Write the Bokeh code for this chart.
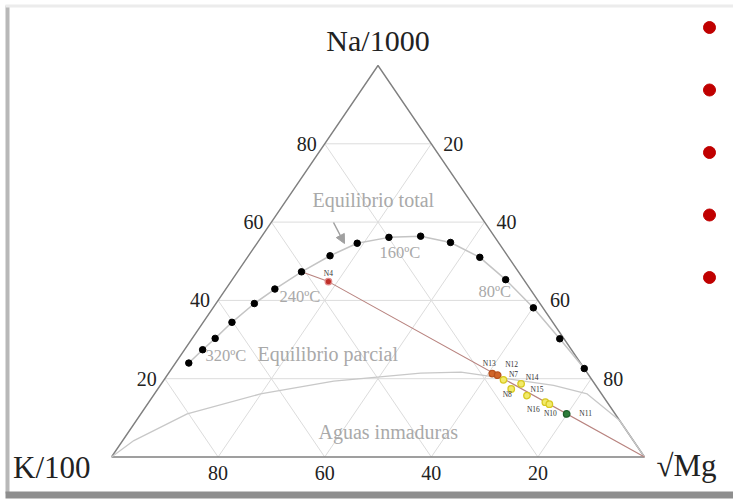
import numpy as np
from bokeh.plotting import figure
from bokeh.models import Arrow, NormalHead, ColumnDataSource
from bokeh.core.properties import value
from bokeh.embed import file_html
from bokeh.resources import INLINE

# ---------------- data (ternary %, Na/1000 - K/100 - sqrt(Mg)) ----------------
ticks = [80, 60, 40, 20]

# full-equilibrium curve points (black dots)
na_eq = [24.0, 27.4, 30.3, 34.4, 39.2, 42.9, 47.3, 51.4, 54.6, 56.1, 56.4, 54.8, 51.0, 45.3, 38.1, 30.2, 22.6]
k_eq = [73.5, 69.2, 65.4, 60.2, 53.6, 47.9, 40.7, 33.3, 26.6, 19.9, 13.8, 9.0, 5.4, 3.4, 1.8, 0.8, 0.0]
mg_eq = [2.5, 3.4, 4.3, 5.4, 7.2, 9.2, 12.0, 15.3, 18.8, 24.0, 29.8, 36.2, 43.6, 51.3, 60.1, 69.0, 77.4]

# immature-waters boundary curve
na_im = [0, 4.2, 11.0, 16.1, 19.4, 21.4, 21.7, 19.5, 18.3, 16.1, 9.3, 0]
k_im = [100, 93.7, 80.3, 64.0, 48.6, 31.3, 23.6, 13.5, 7.9, 2.7, 0, 0]
mg_im = [0, 2.1, 8.7, 19.9, 32.0, 47.3, 54.7, 67.0, 73.8, 81.2, 90.7, 100]

# samples
names = ["N4", "N13", "N12", "N7", "N14", "N8", "N15", "N16", "N10", "N11"]
na_s = [44.8, 21.3, 20.9, 19.7, 18.7, 17.4, 15.7, 14.0, 13.5, 11.0]
k_s = [36.9, 17.9, 17.1, 16.6, 13.8, 16.3, 14.2, 11.6, 11.1, 9.1]
mg_s = [18.3, 60.8, 62.0, 63.7, 67.5, 66.3, 70.1, 74.4, 75.4, 79.9]
groups = ["red", "orange", "orange", "yellow", "yellow", "yellow", "yellow", "yellow", "yellow", "green"]

# mixing line: from equilibrium point through N4 to the sqrt(Mg) vertex
na_mix = [47.3, 44.8, 0]
k_mix = [40.7, 36.9, 0]
mg_mix = [12.0, 18.3, 100]

temp_labels = ["320ºC", "240ºC", "160ºC", "80ºC"]
region_labels = ["Equilibrio total", "Equilibrio parcial", "Aguas inmaduras"]
bullet_rows = [0, 1, 2, 3, 4]

# ---------------- helpers ----------------
def tern(na, k, mg):
    na = np.asarray(na, float); k = np.asarray(k, float); mg = np.asarray(mg, float)
    s = na + k + mg
    return list((mg + na / 2) / s * 100), list(na / s * 100)

# page-pixel -> data mapping (for decorations / annotation placement)
X0, XS = 111.0, 5.33
Y0, YS = 456.5, 3.915
def dx(px):
    return (px - X0) / XS
def dy(py):
    return (Y0 - py) / YS

W, H = 733, 499
SERIF = value("Liberation Serif")

p = figure(width=W, height=H, x_range=(dx(0), dx(W)), y_range=(dy(H), dy(0)),
           output_backend="svg", toolbar_location=None, x_axis_type=None, y_axis_type=None,
           min_border=0, background_fill_color="white", border_fill_color="white")
p.outline_line_color = None

# slide frame decoration
p.quad(left=[dx(5)], right=[dx(9)], bottom=[dy(493)], top=[dy(5)], color="#b8b8b8", line_color=None)
p.quad(left=[dx(5)], right=[dx(W)], bottom=[dy(498)], top=[dy(491)], color="#8e8e8e", line_color=None)
p.quad(left=[dx(5)], right=[dx(W)], bottom=[dy(7)], top=[dy(4)], color="#ececec", line_color=None)

# grid lines
gx, gy = [], []
for v in ticks:
    a = tern([v, v], [100 - v, 0], [0, 100 - v]); gx.append(a[0]); gy.append(a[1])
    b = tern([0, 100 - v], [v, v], [100 - v, 0]); gx.append(b[0]); gy.append(b[1])
    c = tern([0, 100 - v], [100 - v, 0], [v, v]); gx.append(c[0]); gy.append(c[1])
p.multi_line(gx, gy, line_color="#dcdcdc", line_width=1)

# triangle
tx, ty = tern([0, 100, 0, 0], [100, 0, 0, 100], [0, 0, 100, 0])
p.line(tx, ty, line_color="#808080", line_width=1.4)

# immature-water curve
ix, iy = tern(na_im, k_im, mg_im)
p.line(ix, iy, line_color="#c8c8c8", line_width=1.3)

# equilibrium curve
ex, ey = tern(na_eq, k_eq, mg_eq)
p.line(ex, ey, line_color="#c4c4c4", line_width=1.5)

# mixing line
mx, my = tern(na_mix, k_mix, mg_mix)
p.line(mx, my, line_color="#b8837f", line_width=1.1)

# equilibrium dots
p.scatter(ex, ey, size=6.5, fill_color="black", line_color="black")

# samples
fills = {"red": "#c0302a", "orange": "#d0652a", "yellow": "#f2ea6a", "green": "#2e7d3a"}
lines = {"red": "#e08a8a", "orange": "#b8501c", "yellow": "#d8c820", "green": "#1f5e2a"}
sx, sy = tern(na_s, k_s, mg_s)
src = ColumnDataSource(dict(x=sx, y=sy, name=names,
                            fill=[fills[g] for g in groups], line=[lines[g] for g in groups]))
p.scatter("x", "y", source=src, size=6.5, fill_color="fill", line_color="line", line_width=1.3)

label_dx = [0, -3, 14, 10, 11, -4, 10, -12, 1, 19]
label_dy = [-8, -10.5, -11, -5, -6, 6, -6, 7, 9, 0]
for i, n in enumerate(names):
    p.text(x=[sx[i]], y=[sy[i]], text=[n], text_font=SERIF, text_font_size="7.5px",
           text_color="#333333", text_align="center", text_baseline="middle",
           x_offset=label_dx[i], y_offset=label_dy[i])

# tick labels
for v in ticks:
    lx, ly = tern([v], [100 - v], [0])
    p.text(x=lx, y=ly, text=[str(v)], text_font=SERIF, text_font_size="20px", text_color="#222222",
           text_align="right", text_baseline="middle", x_offset=-8)
    rx, ry = tern([v], [0], [100 - v])
    p.text(x=rx, y=ry, text=[str(100 - v)], text_font=SERIF, text_font_size="20px", text_color="#222222",
           text_align="left", text_baseline="middle", x_offset=12)
    bx, by = tern([0], [v], [100 - v])
    p.text(x=bx, y=by, text=[str(v)], text_font=SERIF, text_font_size="20px", text_color="#222222",
           text_align="center", text_baseline="top", y_offset=9)

# vertex names
ax_, ay_ = tern([100], [0], [0])
p.text(x=ax_, y=ay_, text=["Na/1000"], text_font=SERIF, text_font_size="30px", text_color="#222222",
       text_align="center", text_baseline="middle", y_offset=-25)
kx, ky = tern([0], [100], [0])
p.text(x=kx, y=ky, text=["K/100"], text_font=SERIF, text_font_size="31px", text_color="#222222",
       text_align="right", text_baseline="middle", x_offset=-21, y_offset=10)
gx2, gy2 = tern([0], [0], [100])
p.text(x=gx2, y=gy2, text=["√Mg"], text_font=SERIF, text_font_size="31px", text_color="#222222",
       text_align="left", text_baseline="middle", x_offset=12, y_offset=8)

# region and temperature annotations
GREY = "#a9a9a9"
p.text(x=[dx(312)], y=[dy(199)], text=[region_labels[0]], text_font=SERIF, text_font_size="20px",
       text_color=GREY, text_align="left", text_baseline="middle")
p.text(x=[dx(257)], y=[dy(353)], text=[region_labels[1]], text_font=SERIF, text_font_size="20px",
       text_color=GREY, text_align="left", text_baseline="middle")
p.text(x=[dx(318)], y=[dy(431)], text=[region_labels[2]], text_font=SERIF, text_font_size="20px",
       text_color=GREY, text_align="left", text_baseline="middle")
tpos = [(205, 355), (279, 296), (379, 252), (478, 291)]
for t, (px_, py_) in zip(temp_labels, tpos):
    p.text(x=[dx(px_)], y=[dy(py_)], text=[t], text_font=SERIF, text_font_size="16.5px",
           text_color=GREY, text_align="left", text_baseline="middle")

p.add_layout(Arrow(end=NormalHead(size=9, fill_color="#a0a0a0", line_color="#a0a0a0"),
                   x_start=dx(333), y_start=dy(222), x_end=dx(344), y_end=dy(243),
                   line_color="#a0a0a0", line_width=1.5))

# slide bullets
p.scatter([dx(709)] * len(bullet_rows), [dy(27 + 62.5 * r) for r in bullet_rows],
          size=12, fill_color="#c00000", line_color="#c00000")

open("out.html", "w").write(file_html(p, INLINE))
